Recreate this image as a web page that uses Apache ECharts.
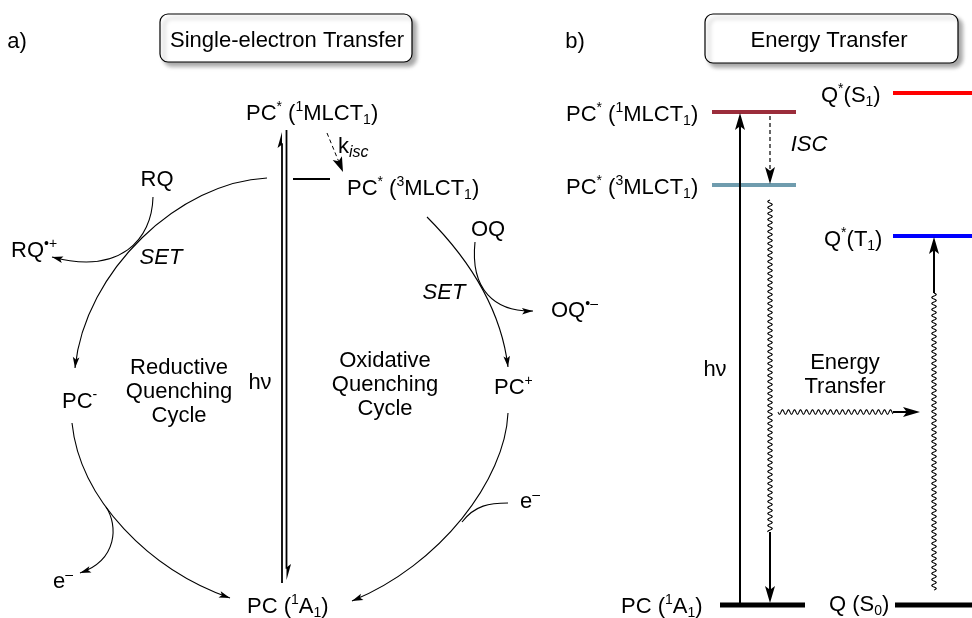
<!DOCTYPE html>
<html><head><meta charset="utf-8">
<script src="https://cdn.jsdelivr.net/npm/echarts@6/dist/echarts.min.js"></script>
<style>html,body{margin:0;padding:0;background:#fff}#c{width:972px;height:618px}</style>
</head><body><div id="c"></div>
<script>
const FONT = '"Liberation Sans", Arial, Helvetica, sans-serif';
const FS = 22;

// ---- Panel b: energy levels (x start, x end, level position) ----
const levelNames = ['PC* (1MLCT1)', 'PC* (3MLCT1)', 'Q* (S1)', 'Q* (T1)', 'PC (1A1)', 'Q (S0)'];
const levelX1 = [712, 712, 893, 893, 720, 895];
const levelX2 = [796, 796, 972, 972, 805, 972];
const levelY  = [112, 185, 93, 236, 605, 605];

// ---- Panel a: curved reaction arrows (cubic Bezier: start, ctrl1, ctrl2, end) ----
const curveNames = ['PC* -> PC-', 'PC- -> PC', 'PC* -> PC+', 'PC+ -> PC', 'RQ -> RQ.+', 'OQ -> OQ.-', 'e- out', 'e- in'];
const curvePts = [
  [[267,178],[180,182],[85,270],[75,368]],
  [[72,423],[80,500],[150,570],[230,598]],
  [[427,217],[460,250],[500,300],[508,367]],
  [[508,413],[505,480],[440,565],[352,601]],
  [[153,197],[152,240],[120,275],[52,257]],
  [[475,242],[470,290],[495,312],[533,311]],
  [[106,507],[118,525],[118,560],[80,573]],
  [[462,522],[475,505],[490,503],[508,503]]
];
const curveHasHead = [1,1,1,1,1,1,1,0];

// ---- straight arrows / bars ----
const straightNames = ['hv up (a)', 'hv down (a)', 'bar', 'k_isc', 'hv (b)', 'ISC', 'relax tail', 'ET tail', 'T1 tail'];
const straightPts = [
  [[282,583],[282,132]],
  [[286.5,130],[286.5,580]],
  [[293,179],[330,179]],
  [[327,133],[343,172]],
  [[740,605],[740,113]],
  [[770,116],[770,184]],
  [[770,532],[770,603]],
  [[893,412],[920,412]],
  [[934,293],[934,237]]
];
const straightHead = ['halfL','halfL','none','full','full','full','full','full','full'];
const straightDash = [0,0,0,1,0,1,0,0,0];

// ---- wavy (non-radiative / energy transfer) segments ----
const wavyPts = [
  [[770,200],[770,532]],
  [[778,412],[893,412]],
  [[934,590],[934,293]]
];

// ---- title boxes ----
const boxes = [[160,14,252,48],[705,14,253,49]];

// ---- labels ----
const labelTexts = [
  'a)', 'Single-electron Transfer',
  'PC{sup|*} ({sup|1}MLCT{sub|1})', 'PC{sup|*} ({sup|3}MLCT{sub|1})',
  'k{si|isc}', 'RQ', 'RQ{sup|•+}', 'SET',
  'Reductive\nQuenching\nCycle', 'hν', 'PC{sup|-}',
  'OQ', 'SET', 'OQ{sup|•–}', 'Oxidative\nQuenching\nCycle', 'PC{sup|+}',
  'e{sup|–}', 'e{sup|–}', 'PC ({sup|1}A{sub|1})',
  'b)', 'Energy Transfer',
  'PC{sup|*} ({sup|1}MLCT{sub|1})', 'PC{sup|*} ({sup|3}MLCT{sub|1})',
  'Q{sup|*}(S{sub|1})', 'Q{sup|*}(T{sub|1})', 'PC ({sup|1}A{sub|1})', 'Q (S{sub|0})',
  'hν', 'ISC', 'Energy\nTransfer'
];
const labelPos = [
  [17,42],[287,41],
  [246,114],[347,189],
  [338,147],[157,180],[11,251],[161,258],
  [179,392],[260,383],[62,402],
  [488,230],[444,293],[551,311],[385,385],[494,388],
  [520,502],[53,582],[247,607],
  [575,42],[829,41],
  [566,115],[566,188],
  [821,96],[824,240],[621,607],[829,605],
  [715,370],[809,145],[845,375]
];
const labelAlign = [
  'center','center',
  'left','left',
  'left','center','left','center',
  'center','center','left',
  'center','center','left','center','left',
  'left','left','left',
  'center','center',
  'left','left',
  'left','left','left','left',
  'center','center','center'
];
const italicLabels = ['SET','ISC'];

const RICH = {
  sup: {fontSize: 14, fontFamily: FONT, verticalAlign: 'top', lineHeight: 14},
  sub: {fontSize: 14, fontFamily: FONT, verticalAlign: 'bottom', lineHeight: 14},
  si:  {fontSize: 16, fontFamily: FONT, fontStyle: 'italic', verticalAlign: 'bottom', lineHeight: 15}
};
const levelColors = ['#9b2d3b', '#6f9cae', '#ff0000', '#0000ff', '#000000', '#000000'];
const levelWidths = [4, 4, 4, 4, 5, 5];

function arrowHead(tip, from, L, W, mode) {
  let dx = tip[0]-from[0], dy = tip[1]-from[1];
  const len = Math.hypot(dx, dy); dx /= len; dy /= len;
  const nx = -dy, ny = dx;
  const bx = tip[0]-dx*L, by = tip[1]-dy*L;
  const mx = tip[0]-dx*L*0.78, my = tip[1]-dy*L*0.78;
  let pts;
  if (mode === 'halfL') pts = [tip, [bx - nx*W, by - ny*W], [mx, my]];
  else pts = [tip, [bx + nx*W, by + ny*W], [mx, my], [bx - nx*W, by - ny*W]];
  return {type: 'polygon', shape: {points: pts}, style: {fill: '#000', stroke: null}};
}

function wavyPoints(p0, p1, A, lam) {
  const dx = p1[0]-p0[0], dy = p1[1]-p0[1];
  const len = Math.hypot(dx, dy);
  const ux = dx/len, uy = dy/len, nx = -uy, ny = ux;
  const pts = [];
  for (let s = 0; s <= len; s += 0.25) {
    const o = A*Math.sin(2*Math.PI*s/lam);
    pts.push([p0[0]+ux*s+nx*o, p0[1]+uy*s+ny*o]);
  }
  return pts;
}

const base = {type: 'custom', coordinateSystem: 'cartesian2d', clip: false, silent: true, animation: false};

const option = {
  animation: false,
  grid: {left: 0, right: 0, top: 0, bottom: 0},
  xAxis: {type: 'value', min: 0, max: 972, show: false},
  yAxis: {type: 'value', min: 0, max: 618, inverse: true, show: false},
  series: [
    Object.assign({}, base, {
      name: 'boxes', data: boxes.map(b => [b[0], b[1]]),
      renderItem(params, api) {
        const b = boxes[params.dataIndex];
        const p = api.coord([b[0], b[1]]), q = api.coord([b[0]+b[2], b[1]+b[3]]);
        return {type: 'rect', shape: {x: p[0], y: p[1], width: q[0]-p[0], height: q[1]-p[1], r: 8},
          style: {fill: '#fff', stroke: '#000', lineWidth: 1.2, shadowColor: 'rgba(0,0,0,0.35)', shadowBlur: 4, shadowOffsetX: 4, shadowOffsetY: 4}};
      }
    }),
    Object.assign({}, base, {
      name: 'levels', data: levelY.map((y, i) => [levelX1[i], y]),
      renderItem(params, api) {
        const i = params.dataIndex;
        const p = api.coord([levelX1[i], levelY[i]]), q = api.coord([levelX2[i], levelY[i]]);
        return {type: 'line', shape: {x1: p[0], y1: p[1], x2: q[0], y2: q[1]},
          style: {stroke: levelColors[i], lineWidth: levelWidths[i], lineCap: 'butt'}};
      }
    }),
    Object.assign({}, base, {
      name: 'curves', data: curvePts.map(c => c[0]),
      renderItem(params, api) {
        const i = params.dataIndex;
        const [p0, c1, c2, p3] = curvePts[i].map(q => api.coord(q));
        const ch = [{type: 'bezierCurve', shape: {x1: p0[0], y1: p0[1], cpx1: c1[0], cpy1: c1[1], cpx2: c2[0], cpy2: c2[1], x2: p3[0], y2: p3[1]},
          style: {stroke: '#000', fill: null, lineWidth: 1.1}}];
        if (curveHasHead[i]) ch.push(arrowHead(p3, c2, 11, 3.3, 'full'));
        return {type: 'group', children: ch};
      }
    }),
    Object.assign({}, base, {
      name: 'straight', data: straightPts.map(s => s[0]),
      renderItem(params, api) {
        const i = params.dataIndex;
        const p = api.coord(straightPts[i][0]), q = api.coord(straightPts[i][1]);
        const inB = straightPts[i][0][0] > 540;
        const L = inB ? 17 : (straightHead[i] === 'full' ? 15 : 16);
        const W = inB ? 5 : (straightHead[i] === 'full' ? 5 : 4.5);
        const lw = inB ? (straightDash[i] ? 1.2 : 2) : (straightDash[i] ? 1 : 1.8);
        const dx = q[0]-p[0], dy = q[1]-p[1], len = Math.hypot(dx, dy);
        const shorten = straightHead[i] === 'none' ? 0 : L*0.7;
        const e = [q[0]-dx/len*shorten, q[1]-dy/len*shorten];
        const ch = [{type: 'line', shape: {x1: p[0], y1: p[1], x2: e[0], y2: e[1]},
          style: {stroke: '#000', lineWidth: lw, lineDash: straightDash[i] ? [4, 3] : null}}];
        if (straightHead[i] !== 'none') ch.push(arrowHead(q, p, L, W, straightHead[i]));
        return {type: 'group', children: ch};
      }
    }),
    Object.assign({}, base, {
      name: 'wavy', data: wavyPts.map(w => w[0]),
      renderItem(params, api) {
        const i = params.dataIndex;
        const p = api.coord(wavyPts[i][0]), q = api.coord(wavyPts[i][1]);
        return {type: 'polyline', shape: {points: wavyPoints(p, q, 2.2, 6)}, style: {stroke: '#000', fill: null, lineWidth: 1.1, lineJoin: 'round'}};
      }
    }),
    Object.assign({}, base, {
      name: 'labels', data: labelPos,
      renderItem(params, api) {
        const i = params.dataIndex;
        const c = api.coord(labelPos[i]);
        const it = italicLabels.indexOf(labelTexts[i]) >= 0;
        return {type: 'text', x: c[0], y: c[1],
          style: {text: labelTexts[i], fill: '#000', fontSize: FS, fontFamily: FONT, fontStyle: it ? 'italic' : 'normal',
            lineHeight: labelTexts[i].indexOf('\n') >= 0 ? 24 : 27, align: labelAlign[i], verticalAlign: 'middle', rich: RICH}};
      }
    })
  ]
};
const chart = echarts.init(document.getElementById('c'), null, {renderer: 'canvas'});
chart.setOption(option);
</script></body></html>
